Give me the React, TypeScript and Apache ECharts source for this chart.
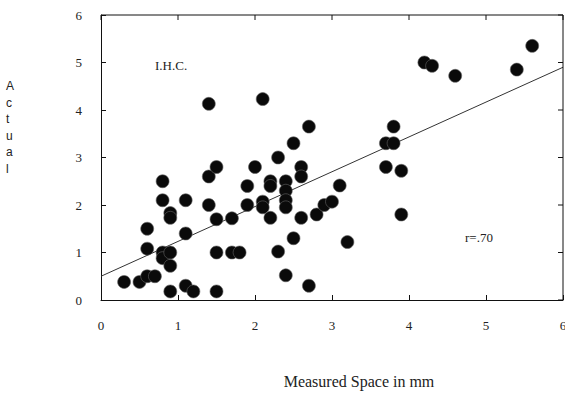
import React, { useEffect, useRef } from "react";
import * as echarts from "echarts";

const pointX = [0.3, 0.5, 0.6, 0.7, 0.6, 0.6, 0.8, 0.8, 0.8, 0.8, 0.9, 0.9, 0.9, 0.9, 0.9, 1.1, 1.1, 1.1, 1.2, 1.4, 1.4, 1.5, 1.4, 1.5, 1.5, 1.5, 1.7, 1.7, 1.8, 1.9, 1.9, 2.0, 2.1, 2.1, 2.1, 2.2, 2.2, 2.2, 2.3, 2.3, 2.4, 2.4, 2.4, 2.4, 2.4, 2.5, 2.5, 2.6, 2.6, 2.6, 2.7, 2.7, 2.8, 2.9, 3.0, 3.1, 3.2, 3.7, 3.8, 3.8, 3.7, 3.9, 3.9, 4.2, 4.3, 4.6, 5.4, 5.6];
const pointY = [0.38, 0.38, 0.5, 0.5, 1.08, 1.5, 2.5, 2.1, 1.0, 0.88, 1.0, 0.72, 0.18, 1.83, 1.73, 2.1, 1.4, 0.3, 0.18, 4.13, 2.6, 2.8, 2.0, 1.7, 1.0, 0.18, 1.72, 1.0, 1.0, 2.4, 2.0, 2.8, 4.23, 2.07, 1.95, 2.5, 2.4, 1.73, 3.0, 1.02, 2.5, 2.3, 2.1, 1.95, 0.52, 3.3, 1.3, 2.8, 2.6, 1.73, 3.65, 0.3, 1.8, 2.0, 2.07, 2.41, 1.22, 3.3, 3.3, 3.65, 2.8, 2.72, 1.8, 5.0, 4.93, 4.72, 4.85, 5.35];
const fitX = [0, 6];
const fitY = [0.5, 4.9];
const xTicks = ["0", "1", "2", "3", "4", "5", "6"];
const yTicks = ["0", "1", "2", "3", "4", "5", "6"];
const yName = "Actual";
const xName = "Measured Space in mm";
const groupLabel = "I.H.C.";
const rLabel = "r=.70";

const FONT = "'Liberation Serif', 'DejaVu Serif', serif";
const SANS = "'Liberation Sans', 'DejaVu Sans', sans-serif";

export default function App() {
  const ref = useRef<HTMLDivElement>(null);
  useEffect(() => {
    if (!ref.current) return;
    const chart = echarts.init(ref.current, undefined, { renderer: "svg" });
    const axisLine = { show: true, onZero: false, lineStyle: { color: "#111", width: 1 } };
    const axisTick = { show: true, inside: true, length: 5, lineStyle: { color: "#111", width: 1 } };
    const maxX = xTicks.length - 1;
    const maxY = yTicks.length - 1;
    chart.setOption({
      animation: false,
      backgroundColor: "#fff",
      grid: {
        left: 101, top: 15, width: 462, height: 285,
        containLabel: false, outerBoundsMode: "none",
      },
      xAxis: {
        type: "value", min: 0, max: maxX, interval: 1,
        axisLine, axisTick, splitLine: { show: false },
        axisLabel: { margin: 19, color: "#222", fontFamily: FONT, fontSize: 13, formatter: (v: number) => xTicks[Math.round(v)] },
      },
      yAxis: {
        type: "value", min: 0, max: maxY, interval: 1,
        axisLine, axisTick, splitLine: { show: false },
        axisLabel: { margin: 19, color: "#222", fontFamily: FONT, fontSize: 13, formatter: (v: number) => yTicks[Math.round(v)] },
      },
      series: [
        {
          // top and right edges of the frame
          type: "line",
          silent: true,
          clip: false,
          data: [[0, maxY], [maxX, maxY], [maxX, 0]],
          symbol: "none",
          lineStyle: { color: "#111", width: 1 },
          z: 3,
        },
        {
          // inward ticks on the top and right edges
          type: "custom",
          silent: true,
          clip: false,
          data: xTicks.map((_, i) => [i]),
          encode: { x: 0 },
          renderItem: (params: any, api: any) => {
            const i = api.value(0);
            const st = { stroke: "#111", lineWidth: 1, fill: "none" };
            const top = api.coord([i, maxY]);
            const right = api.coord([maxX, i]);
            return {
              type: "group",
              children: [
                { type: "line", shape: { x1: top[0], y1: top[1], x2: top[0], y2: top[1] + 5 }, style: st },
                { type: "line", shape: { x1: right[0], y1: right[1], x2: right[0] - 5, y2: right[1] }, style: st },
              ],
            };
          },
          z: 3,
        },
        {
          type: "line",
          data: fitX.map((x, i) => [x, fitY[i]]),
          symbol: "none",
          lineStyle: { color: "#333", width: 1 },
          z: 1,
        },
        {
          type: "scatter",
          data: pointX.map((x, i) => [x, pointY[i]]),
          symbol: "circle",
          symbolSize: 13,
          itemStyle: { color: "#0a0a0a", opacity: 1, borderColor: "#666", borderWidth: 0.6 },
          z: 2,
        },
      ],
      graphic: [
        {
          type: "text", left: 6, top: 78,
          style: { text: yName.split("").join("\n"), font: `12px ${SANS}`, fill: "#222", lineHeight: 16.5, align: "center" },
        },
        {
          type: "text", x: 359, y: 381,
          style: { text: xName, font: `16px ${FONT}`, fill: "#222", align: "center", verticalAlign: "middle" },
        },
        {
          type: "text", x: 155, y: 65,
          style: { text: groupLabel, font: `13px ${FONT}`, fill: "#222", verticalAlign: "middle" },
        },
        {
          type: "text", x: 465, y: 237,
          style: { text: rLabel, font: `13px ${FONT}`, fill: "#222", verticalAlign: "middle" },
        },
      ],
    });
    return () => chart.dispose();
  }, []);
  return <div ref={ref} style={{ position: "fixed", left: 0, top: 0, width: 565, height: 396, background: "#fff" }} />;
}
